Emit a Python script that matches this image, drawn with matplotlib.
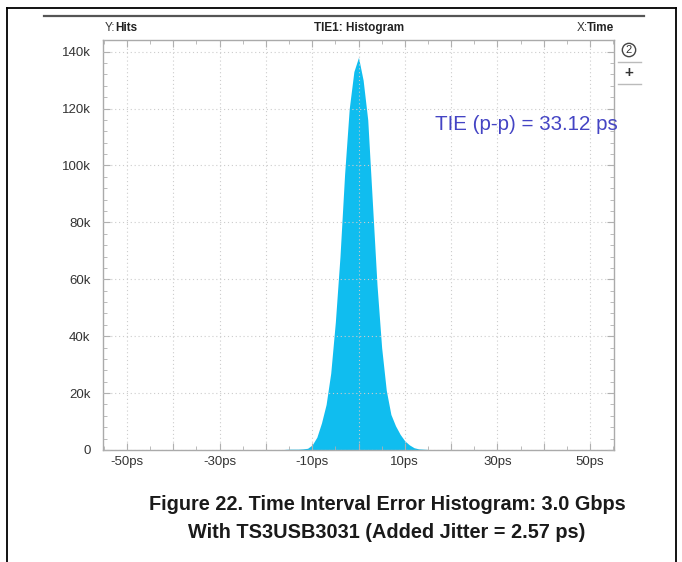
import matplotlib.pyplot as plt
import matplotlib.ticker as mticker
from matplotlib.lines import Line2D

plt.rcParams['font.family'] = ['Liberation Sans', 'DejaVu Sans']

# histogram of TIE (time in ps, hits in thousands)
time_ps = [-17, -16, -15, -14, -13, -12, -11, -10, -9, -8, -7, -6, -5, -4, -3, -2, -1,
           0, 1, 2, 3, 4, 5, 6, 7, 8, 9, 10, 11, 12, 13, 14, 15, 16]
hits_k = [0.0, 0.2, 0.3, 0.3, 0.3, 0.4, 0.6, 1.8, 4.5, 9.5, 16, 27, 45, 68, 97, 120, 133,
          138, 130, 116, 87, 58, 36, 21, 12.5, 8.5, 5.5, 3.2, 1.8, 0.8, 0.4, 0.3, 0.2, 0.0]
hits = [h * 1000 for h in hits_k]

x_labels = [-50, -30, -10, 10, 30, 50]

fig = plt.figure(figsize=(6.82, 5.62), dpi=100)
W, H = 682, 562
ax = fig.add_axes([103 / W, 1 - 450 / H, 511 / W, 410 / H])

ax.fill_between(time_ps, 0, hits, color='#10bdef', linewidth=0, zorder=2)

ax.set_xlim(-55.2, 55.2)
ax.set_ylim(0, 144100)

ax.xaxis.set_major_locator(mticker.MultipleLocator(10))
ax.xaxis.set_minor_locator(mticker.MultipleLocator(5))
ax.yaxis.set_major_locator(mticker.MultipleLocator(20000))
ax.yaxis.set_minor_locator(mticker.MultipleLocator(4000))
ax.xaxis.set_major_formatter(mticker.FuncFormatter(
    lambda v, p: f'{int(round(v))}ps' if int(round(v)) in x_labels else ''))
ax.yaxis.set_major_formatter(mticker.FuncFormatter(
    lambda v, p: '0' if v == 0 else f'{int(v / 1000)}k'))

ax.grid(True, which='major', linestyle=(0, (1, 2.5)), color='#cccccc', linewidth=0.8, zorder=3)
ax.set_axisbelow(False)
ax.tick_params(which='both', direction='in', top=True, right=True, color='#b0b0b0',
               labelsize=9.5, labelcolor='#333333')
ax.tick_params(which='major', length=5)
ax.tick_params(which='minor', length=3)
ax.tick_params(axis='x', pad=4)
ax.tick_params(axis='y', pad=9)
for s in ax.spines.values():
    s.set_color('#aaaaaa')
    s.set_linewidth(1)

# header row
hy = 1 - 28 / H
fig.text(105 / W, hy, 'Y:', fontsize=8.5, color='#333333', va='center')
fig.text(115 / W, hy, 'Hits', fontsize=8.5, fontweight='bold', color='#222222', va='center')
fig.text(359 / W, hy, 'TIE1: Histogram', fontsize=8.5, fontweight='bold',
         color='#222222', va='center', ha='center')
fig.text(614 / W, hy, 'Time', fontsize=8.5, fontweight='bold', color='#222222',
         va='center', ha='right')
fig.text(588 / W, hy, 'X:', fontsize=8.5, color='#333333', va='center', ha='right')

fig.text(435 / W, 1 - 124 / H, 'TIE (p-p) = 33.12 ps', fontsize=14.8, color='#4444c4', va='center')

# side widget
fig.text(629 / W, 1 - 50 / H, '2', fontsize=8, color='#333333', ha='center', va='center',
         bbox=dict(boxstyle='circle,pad=0.15', fc='white', ec='#444444', lw=1))
fig.text(629 / W, 1 - 73 / H, '+', fontsize=11, fontweight='bold', color='#333333',
         ha='center', va='center')
for yy in (62, 84):
    fig.add_artist(Line2D([618 / W, 641 / W], [1 - yy / H, 1 - yy / H], color='#bbbbbb', lw=1))

# frame lines
fig.add_artist(Line2D([7 / W, 7 / W], [0, 1 - 8 / H], color='black', lw=1.3))
fig.add_artist(Line2D([676 / W, 676 / W], [0, 1 - 8 / H], color='black', lw=1.3))
fig.add_artist(Line2D([7 / W, 676 / W], [1 - 8 / H, 1 - 8 / H], color='black', lw=1.3))
fig.add_artist(Line2D([44 / W, 644 / W], [1 - 16 / H, 1 - 16 / H], color='#555555', lw=1.6))

# caption
fig.text(387 / W, 1 - 505 / H, 'Figure 22. Time Interval Error Histogram: 3.0 Gbps',
         fontsize=14.3, fontweight='bold', ha='center', va='center', color='#1a1a1a')
fig.text(387 / W, 1 - 532 / H, 'With TS3USB3031 (Added Jitter = 2.57 ps)',
         fontsize=14.3, fontweight='bold', ha='center', va='center', color='#1a1a1a')

fig.savefig('out.png', dpi=100)
